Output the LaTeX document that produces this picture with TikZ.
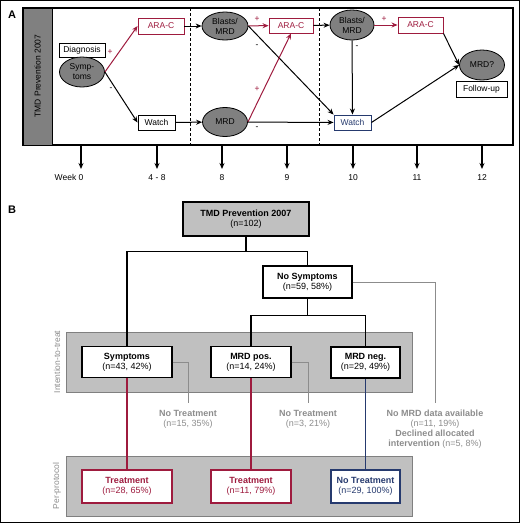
\documentclass[tikz,border=0pt]{standalone}
\usepackage{fontspec}
\setmainfont{Liberation Sans}
\usetikzlibrary{shapes.geometric,arrows.meta,positioning}

\definecolor{tmdred}{RGB}{158,27,62}
\definecolor{tmdblue}{RGB}{38,58,110}
\definecolor{ovalgray}{RGB}{128,128,128}
\definecolor{bandgray}{RGB}{192,192,192}
\definecolor{notegray}{RGB}{140,140,140}

\tikzset{
  every node/.style={font=\fontsize{8.5}{10}\selectfont},
  abox/.style={draw,fill=white,line width=0.9pt,inner sep=0pt},
  redbox/.style={abox,draw=tmdred,text=tmdred},
  bluebox/.style={abox,draw=tmdblue,text=tmdblue},
  oval/.style={ellipse,draw,fill=ovalgray,line width=0.8pt,inner sep=0pt,align=center,minimum width=45pt,minimum height=29pt},
  flow/.style={-{Stealth[length=6pt,width=5pt]},line width=1pt},
  redflow/.style={flow,draw=tmdred},
  sign/.style={font=\fontsize{8.5}{9}\selectfont},
  tick/.style={-{Stealth[length=6pt,width=5pt]},line width=1.4pt,shorten >=5pt},
  bbox/.style={draw,fill=white,line width=1.1pt,inner sep=0pt,align=center,font=\fontsize{9}{10}\selectfont},
  band/.style={fill=bandgray,draw=gray,line width=0.9pt},
  gline/.style={draw=notegray,line width=1pt,shorten >=7pt},
  gnote/.style={text=notegray,align=center,inner sep=0pt,anchor=north,font=\fontsize{9}{10}\selectfont},
}

\begin{document}
\begin{tikzpicture}[x=1pt,y=-1pt]
\useasboundingbox (0,0) rectangle (520,523);
\draw[line width=1pt] (0.5,0.5) rectangle (519.5,522.5);

% Panel A: schedule
\node[font=\bfseries\fontsize{11}{12}\selectfont] (lblA) at (12,15) {A};
\draw[line width=1.5pt] (23,8) rectangle (513,145);
\draw[fill=ovalgray,line width=1pt] (23,8) rectangle (52,145);
\node[rotate=90] (bar) at (37.5,76) {TMD Prevention 2007};
\draw[densely dashed,line width=0.9pt] (190,8) -- (190,145);
\draw[densely dashed,line width=0.9pt] (319,8) -- (319,145);

\node[abox,minimum width=46pt,minimum height=14pt] (diag) at (82,50) {Diagnosis};
\node[oval,minimum height=30pt] (symp) at (82,72) {Symp-\\toms};
\node[redbox,minimum width=46pt,minimum height=16pt] (ara1) at (161,26) {ARA-C};
\node[abox,minimum width=37pt,minimum height=15pt] (watch1) at (156.5,122.5) {Watch};
\node[oval,minimum width=46pt,minimum height=28pt] (blasts1) at (225,26) {Blasts/\\MRD};
\node[oval] (mrd1) at (225,122) {MRD};
\node[redbox,minimum width=44pt,minimum height=15pt] (ara2) at (291,25.5) {ARA-C};
\node[bluebox,minimum width=37pt,minimum height=15pt] (watch2) at (352.5,122.5) {Watch};
\node[oval,minimum width=44pt,minimum height=30pt] (blasts2) at (352,25) {Blasts/\\MRD};
\node[redbox,minimum width=45pt,minimum height=16pt] (ara3) at (420.5,25) {ARA-C};
\node[oval,minimum height=30pt] (mrdq) at (482,65) {MRD?};
\node[abox,minimum width=51pt,minimum height=16pt] (follow) at (481.5,89) {Follow-up};

\draw[redflow] (symp.east) -- (ara1.west);
\draw[flow] (symp.east) -- (watch1.west);
\draw[flow] (ara1) -- (blasts1);
\draw[flow] (watch1) -- (mrd1);
\draw[redflow] (blasts1) -- (ara2);
\draw[flow] (blasts1.east) -- (watch2.north west);
\draw[redflow] (mrd1.east) -- (ara2.south);
\draw[flow] (mrd1) -- (watch2);
\draw[flow] (ara2) -- (blasts2);
\draw[flow] (blasts2) -- (watch2);
\draw[redflow] (blasts2) -- (ara3);
\draw[flow] (ara3.south east) -- (mrdq.west);
\draw[flow] (watch2.east) -- (mrdq.west);

% signs
\node[sign,text=tmdred] (p1) at (110,52) {+};
\node[sign] (m1) at (111,89) {-};
\node[sign,text=tmdred] (p2) at (257,19) {+};
\node[sign] (m2) at (257,46) {-};
\node[sign,text=tmdred] (p3) at (257,89) {+};
\node[sign] (m3) at (257,128) {-};
\node[sign,text=tmdred] (p4) at (384,19) {+};
\node[sign] (m4) at (357,47) {-};

% weeks
\foreach \x/\wk [count=\i] in {81/{\llap{Week }0},157/4 - 8,222/8,287/9,353/10,417/11,482/12} {
  \coordinate (wtop\i) at (\x,145);
  \node[anchor=north,inner sep=0pt] (wk\i) at (\x,174) {\wk};
  \draw[tick] (wtop\i) -- (wk\i.north);
}

% Panel B: patient flow
\node[font=\bfseries\fontsize{11}{12}\selectfont] (lblB) at (12,210) {B};
\draw[band] (66,332) rectangle (412,392);
\draw[band] (66,456) rectangle (412,516);
\node[rotate=90,text=notegray] (itt) at (57,362) {Intention-to-treat};
\node[rotate=90,text=notegray] (pp) at (57,486) {Per-protocol};

\node[bbox,fill=bandgray,line width=1.3pt,minimum width=126pt,minimum height=34pt] (tmd) at (246,219) {\textbf{TMD Prevention 2007}\\(n=102)};
\node[bbox,minimum width=89pt,minimum height=32pt] (nosym) at (307.5,282) {\textbf{No Symptoms}\\(n=59, 58\%)};
\node[bbox,minimum width=90pt,minimum height=31pt] (symptoms) at (127,362) {\textbf{Symptoms}\\(n=43, 42\%)};
\node[bbox,minimum width=80pt,minimum height=31pt] (mrdpos) at (251,362) {\textbf{MRD pos.}\\(n=14, 24\%)};
\node[bbox,minimum width=69pt,minimum height=31pt] (mrdneg) at (365.5,362.5) {\textbf{MRD neg.}\\(n=29, 49\%)};
\node[bbox,draw=tmdred,text=tmdred,minimum width=90pt,minimum height=33pt] (treat1) at (127,486.5) {\textbf{Treatment}\\(n=28, 65\%)};
\node[bbox,draw=tmdred,text=tmdred,minimum width=80pt,minimum height=33pt] (treat2) at (251,486.5) {\textbf{Treatment}\\(n=11, 79\%)};
\node[bbox,draw=tmdblue,text=tmdblue,minimum width=69pt,minimum height=33pt] (notreat) at (365.5,486.5) {\textbf{No Treatment}\\(n=29, 100\%)};

\draw[line width=1.1pt] (tmd.south) -- ++(0,15) -| (symptoms.north);
\draw[line width=1.1pt] (tmd.south) -- ++(0,15) -| (nosym.north);
\draw[line width=1.1pt] (nosym.south) -- ++(0,17) -| (mrdpos.north);
\draw[line width=1.1pt] (nosym.south) -- ++(0,17) -| (mrdneg.north);
\draw[tmdred,line width=1.1pt] (symptoms) -- (treat1);
\draw[tmdred,line width=1.1pt] (mrdpos) -- (treat2);
\draw[tmdblue,line width=1.1pt] (mrdneg) -- (notreat);

% drop-outs
\node[gnote] (skip1) at (188,410) {\textbf{No Treatment}\\(n=15, 35\%)};
\node[gnote] (skip2) at (308,410) {\textbf{No Treatment}\\(n=3, 21\%)};
\node[gnote] (skip3) at (435,410) {\textbf{No MRD data available}\\(n=11, 19\%)\\\textbf{Declined allocated}\\\textbf{intervention} (n=5, 8\%)};
\draw[gline] (symptoms.east) -| (skip1.north);
\draw[gline] (mrdpos.east) -| (skip2.north);
\draw[gline] (nosym.east) -| (skip3.north);
\end{tikzpicture}
\end{document}
